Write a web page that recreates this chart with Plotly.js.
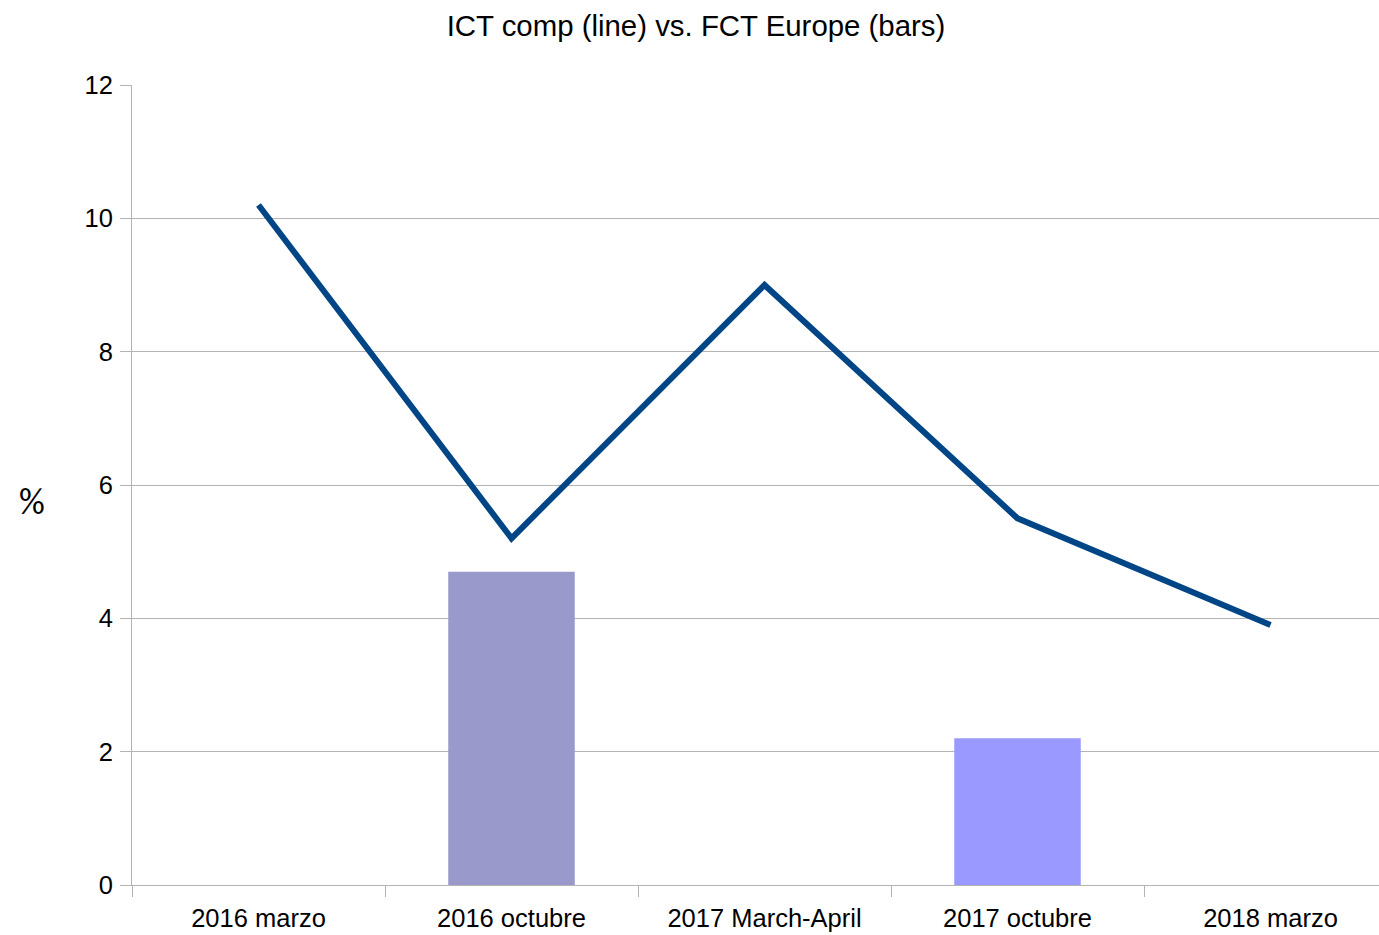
<!DOCTYPE html>
<html>
<head>
<meta charset="utf-8">
<script src="https://cdn.plot.ly/plotly-3.0.1.min.js"></script>
<style>html,body{margin:0;padding:0;background:#fff;}#chart{width:1379px;height:935px;}</style>
</head>
<body>
<div id="chart"></div>
<script>
const categories = ["2016 marzo", "2016 octubre", "2017 March-April", "2017 octubre", "2018 marzo"];
const ictLine = [10.2, 5.2, 9.0, 5.5, 3.9];
const fctBars = [null, 4.7, null, 2.2, null];
const barColors = ["#9999cc", "#9999cc", "#9999ff", "#9999ff", "#9999ff"];

const traces = [
  {
    type: "bar",
    x: categories,
    y: fctBars,
    width: 0.5,
    marker: {color: barColors},
    name: "FCT Europe"
  },
  {
    type: "scatter",
    mode: "lines",
    x: categories,
    y: ictLine,
    line: {color: "#004586", width: 6},
    name: "ICT comp"
  }
];

const font = "'Liberation Sans', Arial, sans-serif";
const layout = {
  width: 1379,
  height: 935,
  showlegend: false,
  paper_bgcolor: "#ffffff",
  plot_bgcolor: "#ffffff",
  margin: {l: 132, r: 0, t: 85, b: 50},
  title: {
    text: "ICT comp (line) vs. FCT Europe (bars)",
    font: {family: font, size: 29.4, color: "#000000"},
    x: (696 - 0) / 1379, xanchor: "center",
    y: 1 - 26/935, yanchor: "middle"
  },
  xaxis: {
    type: "category",
    range: [-0.5, -0.5 + 1247/253],
    tickson: "boundaries",
    ticks: "outside",
    ticklen: 11,
    tickcolor: "#b3b3b3",
    tickwidth: 1,
    showgrid: false,
    showline: true,
    linecolor: "#b3b3b3",
    linewidth: 1,
    tickfont: {family: font, size: 25.5, color: "#000000"},
    ticklabelstandoff: 10,
    fixedrange: true
  },
  yaxis: {
    range: [0, 12],
    dtick: 2,
    ticks: "outside",
    ticklen: 11,
    tickcolor: "#b3b3b3",
    tickwidth: 1,
    showgrid: true,
    gridcolor: "#b3b3b3",
    gridwidth: 1,
    showline: true,
    linecolor: "#b3b3b3",
    linewidth: 1,
    zeroline: false,
    tickfont: {family: font, size: 25.5, color: "#000000"},
    ticklabelstandoff: 2,
    fixedrange: true
  },
  annotations: [
    {
      text: "%",
      xref: "paper", yref: "paper",
      x: -100/1247, y: (885-502)/800,
      xanchor: "center", yanchor: "middle",
      showarrow: false,
      font: {family: "Carlito, 'Liberation Sans', sans-serif", size: 36, color: "#000000"}
    }
  ]
};

Plotly.newPlot("chart", traces, layout, {displayModeBar: false, staticPlot: true});
</script>
</body>
</html>
